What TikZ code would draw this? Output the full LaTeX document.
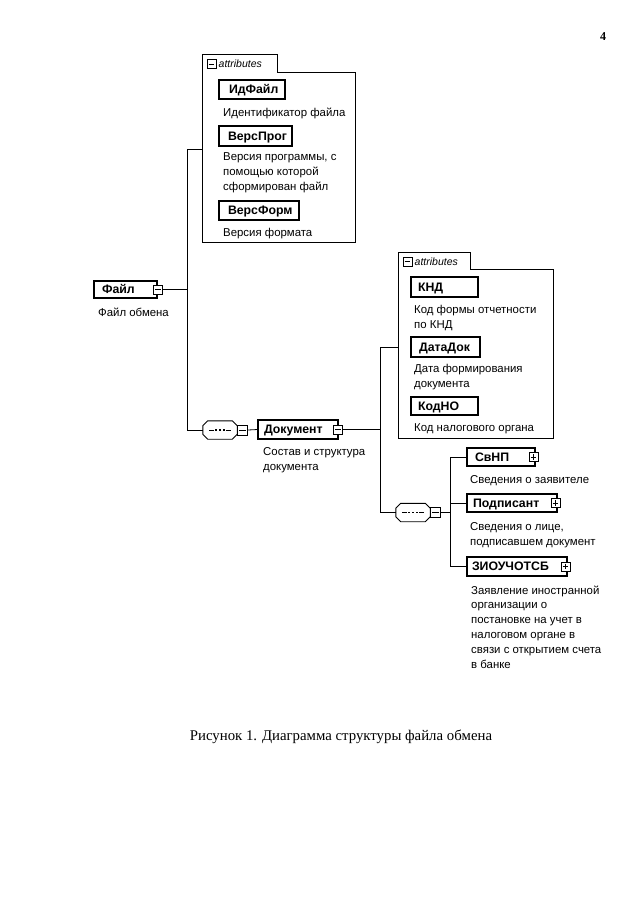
\documentclass[tikz,border=0pt]{standalone}
\usepackage{fontspec}
\setmainfont{Liberation Serif}
\newfontfamily\diagfont{Liberation Sans}
\usetikzlibrary{shadows}
\begin{document}
\begin{tikzpicture}[x=1pt,y=-1pt,
  conn/.style={line width=0.8pt},
  elem/.style={draw, fill=white, line width=1.1pt,
    general shadow={fill=black, shadow xshift=1.3pt, shadow yshift=-1.3pt},
    inner xsep=5pt, inner ysep=0pt, text height=10.2pt, text depth=1.6pt,
    font=\diagfont\bfseries\fontsize{12.3}{14}\selectfont},
  desc/.style={anchor=north west, inner sep=0pt, align=left,
    font=\diagfont\fontsize{11.4}{14.8}\selectfont},
  cont/.style={draw=none, inner sep=0pt},
  atab/.style={draw=none, inner sep=0pt, anchor=south west,
    font=\diagfont\itshape\fontsize{10.5}{12}\selectfont},
  minusicon/.style={draw, fill=white, line width=0.9pt, minimum size=9pt, inner sep=0pt,
    path picture={\draw[line width=0.8pt] ([xshift=1.6pt]path picture bounding box.west) -- ([xshift=-1.6pt]path picture bounding box.east);}},
  plusicon/.style={draw, fill=white, line width=0.9pt, minimum size=9pt, inner sep=0pt,
    path picture={\draw[line width=0.8pt] ([xshift=1.6pt]path picture bounding box.west) -- ([xshift=-1.6pt]path picture bounding box.east);
      \draw[line width=0.8pt] ([yshift=-1.6pt]path picture bounding box.north) -- ([yshift=1.6pt]path picture bounding box.south);}},
  seqbox/.style={draw=none, minimum width=34pt, minimum height=18pt, inner sep=0pt},
  octo/.style={draw, fill=white, line width=0.9pt}
]
\useasboundingbox (0,0) rectangle (640,905);

\def\octagon#1{%
  \draw[octo] ([xshift=5pt]#1.north west) -- ([xshift=-5pt]#1.north east) -- ([yshift=-5pt]#1.north east)
    -- ([yshift=5pt]#1.south east) -- ([xshift=-5pt]#1.south east) -- ([xshift=5pt]#1.south west)
    -- ([yshift=5pt]#1.south west) -- ([yshift=-5pt]#1.north west) -- cycle;
  \draw[line width=0.8pt] ([xshift=6pt]#1.west) -- ([xshift=-6pt]#1.center);
  \draw[line width=0.8pt] ([xshift=6pt]#1.center) -- ([xshift=-6pt]#1.east);
  \fill ([xshift=-4.8pt,yshift=-0.9pt]#1.center) rectangle ++(1.8pt,1.8pt);
  \fill ([xshift=-0.9pt,yshift=-0.9pt]#1.center) rectangle ++(1.8pt,1.8pt);
  \fill ([xshift=3pt,yshift=-0.9pt]#1.center) rectangle ++(1.8pt,1.8pt);
}

% page number
\node[font=\bfseries\fontsize{12}{14}\selectfont] (pg) at (603,37) {4};

% ---- first attributes container
\node[cont, minimum width=152pt, minimum height=169pt] (attr1) at (279,157.5) {};
\node[atab, minimum width=74pt, minimum height=18pt] (tab1) at (attr1.north west) {};
\draw[line width=0.8pt] (attr1.south west) -- (tab1.north west) -- (tab1.north east) -- (tab1.south east) -- (attr1.north east) -- (attr1.south east) -- cycle;
\node[minusicon] (tab1m) at (211.5,64) {};
\node[atab, anchor=west] (tab1t) at (218.5,64) {attributes};

\node[elem, minimum height=19pt] (idf) at (252,89.5) {\makebox[56pt][l]{\hspace{5pt}ИдФайл}};
\node[desc] (idfd) at (223,107.5) {Идентификатор файла};
\node[elem, minimum height=20pt] (vprog) at (255.5,136) {\makebox[63pt][l]{\hspace{4pt}ВерсПрог}};
\node[desc] (vprogd) at (223,152.5) {Версия программы, с\\помощью которой\\сформирован файл};
\node[elem, minimum height=19pt] (vform) at (259,210.5) {\makebox[70pt][l]{\hspace{4pt}ВерсФорм}};
\node[desc] (vformd) at (223,228.5) {Версия формата};

% ---- root element
\node[elem, minimum height=17pt] (fajl) at (125.5,289.5) {\makebox[53pt][l]{\hspace{3pt}Файл}};
\node[minusicon] (fajlm) at ([xshift=0.5pt]fajl.east) {};
\node[desc] (fajld) at (98,307.5) {Файл обмена};

% ---- first sequence and Документ
\node[seqbox] (seq1) at (220,430) {};
\octagon{seq1}
\node[minusicon, anchor=west, minimum size=10pt] (seq1m) at (seq1.east) {};
\node[elem, minimum height=19pt] (dok) at (298,429.5) {\makebox[70pt][l]{\hspace{1pt}Документ}};
\node[minusicon] (dokm) at ([xshift=-0.5pt]dok.east) {};
\node[desc] (dokd) at (263,447.5) {Состав и структура\\документа};

% ---- second attributes container
\node[cont, minimum width=154pt, minimum height=168pt] (attr2) at (476,354) {};
\node[atab, minimum width=71pt, minimum height=17pt] (tab2) at (attr2.north west) {};
\draw[line width=0.8pt] (attr2.south west) -- (tab2.north west) -- (tab2.north east) -- (tab2.south east) -- (attr2.north east) -- (attr2.south east) -- cycle;
\node[minusicon] (tab2m) at (407.5,261.5) {};
\node[atab, anchor=west] (tab2t) at (414.5,261.5) {attributes};

\node[elem, minimum height=20pt] (knd) at (444.5,287) {\makebox[57pt][l]{\hspace{2pt}КНД}};
\node[desc] (kndd) at (414,305.5) {Код формы отчетности\\по КНД};
\node[elem, minimum height=20pt] (datadok) at (445.5,347) {\makebox[59pt][l]{\hspace{3pt}ДатаДок}};
\node[desc] (datadokd) at (414,364.5) {Дата формирования\\документа};
\node[elem, minimum height=18pt] (kodno) at (444.5,406) {\makebox[57pt][l]{\hspace{2pt}КодНО}};
\node[desc] (kodnod) at (414,423.5) {Код налогового органа};

% ---- second sequence and children
\node[seqbox] (seq2) at (413,512.5) {};
\octagon{seq2}
\node[minusicon, anchor=west, minimum size=10pt] (seq2m) at (seq2.east) {};

\node[elem, minimum height=18pt] (svnp) at (501,457) {\makebox[58pt][l]{\hspace{3pt}СвНП}};
\node[plusicon] (svnpp) at ([xshift=-2pt]svnp.east) {};
\node[desc] (svnpd) at (470,475.5) {Сведения о заявителе};
\node[elem, minimum height=18pt] (podp) at (512,503) {\makebox[80pt][l]{\hspace{1pt}Подписант}};
\node[plusicon] (podpp) at ([xshift=-2pt]podp.east) {};
\node[desc] (podpd) at (470,522.5) {Сведения о лице,\\подписавшем документ};
\node[elem, minimum height=19pt] (ziou) at (517,566.5) {\makebox[90pt][l]{ЗИОУЧОТСБ}};
\node[plusicon] (zioup) at ([xshift=-2pt]ziou.east) {};
\node[desc] (zioud) at (471,585.5) {Заявление иностранной\\организации о\\постановке на учет в\\налоговом органе в\\связи с открытием счета\\в банке};

% ---- connectors
\coordinate (k1) at (187,149.5);
\coordinate (k2) at (187,430);
\coordinate (k3) at (380,347);
\coordinate (k4) at (380,512.5);
\coordinate (k5) at (450,512.5);
\coordinate (k6) at (450,457);
\coordinate (k7) at (450,566.5);
\coordinate (k8) at (450,503);

\draw[conn] (fajlm.east) -- (fajlm.east -| k1);
\draw[conn] (attr1.west |- k1) -- (k1) -- (k2) -- (seq1.west);
\draw[conn] (seq1m.east) -- (dok.west);
\draw[conn] (dokm.east) -- (dokm.east -| k3);
\draw[conn] (attr2.west |- k3) -- (k3) -- (k4) -- (seq2.west);
\draw[conn] (seq2m.east) -- (k5);
\draw[conn] (k6) -- (k7);
\draw[conn] (k6) -- (svnp.west);
\draw[conn] (k8) -- (podp.west);
\draw[conn] (k7) -- (ziou.west);

% caption
\node[font=\fontsize{14.8}{17}\selectfont] (cap) at (341,737) {Рисунок 1. Диаграмма структуры файла обмена};
\end{tikzpicture}
\end{document}
